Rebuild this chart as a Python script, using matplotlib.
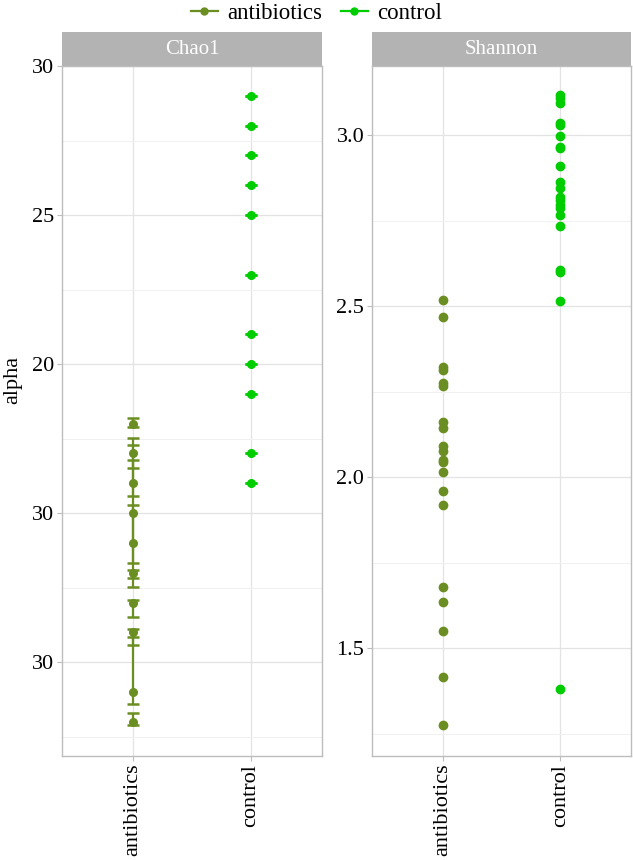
import matplotlib
matplotlib.use("Agg")
import matplotlib.pyplot as plt
from matplotlib.patches import Rectangle
from matplotlib.lines import Line2D

plt.rcParams['font.family'] = ['Liberation Serif', 'DejaVu Serif']

groups = ["antibiotics", "control"]
col_anti = "#6B8E23"
col_ctrl = "#00CD00"

# Chao1 values
chao_anti = [18, 17, 16, 15, 14, 13, 12, 11, 9, 8]
chao_anti_lo = [17.89, 16.52, 15.58, 13.31, 12.81, 12.53, 11.52, 10.57, 8.59, 7.89]
chao_anti_hi = [18.18, 17.51, 17.28, 16.78, 15.27, 13.10, 12.10, 11.10, 10.83, 8.28]
chao_ctrl = [29, 28, 27, 26, 25, 23, 21, 20, 19, 17, 16]
chao_ticks = [30, 25, 20, 15, 10]
chao_ticklabels = ["30", "25", "20", "30", "30"]

# Shannon values
shan_anti = [2.518, 2.467, 2.322, 2.313, 2.276, 2.267, 2.162, 2.145, 2.092, 2.077,
             2.050, 2.044, 2.016, 1.959, 1.918, 1.680, 1.636, 1.551, 1.417, 1.275]
shan_ctrl = [3.117, 3.107, 3.094, 3.036, 3.029, 2.997, 2.966, 2.963, 2.910, 2.863,
             2.844, 2.818, 2.810, 2.795, 2.786, 2.766, 2.734, 2.605, 2.600, 2.515, 1.382]
shan_ticks = [3.0, 2.5, 2.0, 1.5]
shan_ticklabels = ["3.0", "2.5", "2.0", "1.5"]

W, H = 633, 860
fig = plt.figure(figsize=(W / 100, H / 100), dpi=100)

def px_axes(x0, x1, y0, y1):
    return fig.add_axes([x0 / W, 1 - y1 / H, (x1 - x0) / W, (y1 - y0) / H])

ax1 = px_axes(62, 322, 66, 756)
ax2 = px_axes(372, 631, 66, 756)

def style(ax, title, ticks, labels, minor, ylim):
    ax.set_xlim(0.4, 2.6)
    ax.set_ylim(*ylim)
    ax.set_xticks([1, 2])
    ax.set_xticklabels(groups, rotation=90, fontsize=16)
    ax.set_yticks(ticks)
    ax.set_yticklabels(labels, fontsize=16)
    ax.set_yticks(minor, minor=True)
    ax.grid(True, which="major", color="#E3E3E3", lw=0.9)
    ax.grid(True, which="minor", axis="y", color="#F0F0F0", lw=0.7)
    ax.set_axisbelow(True)
    for s in ax.spines.values():
        s.set_color("#BDBDBD")
        s.set_linewidth(1.0)
    ax.tick_params(which="major", length=3.5, color="#BDBDBD", pad=2)
    ax.tick_params(which="minor", length=0)
    hs = 34 / 690
    ax.add_patch(Rectangle((0, 1), 1, hs, transform=ax.transAxes, clip_on=False,
                           facecolor="#B3B3B3", edgecolor="none"))
    ax.text(0.5, 1 + hs / 2, title, transform=ax.transAxes, ha="center", va="center",
            color="white", fontsize=15)

style(ax1, "Chao1", chao_ticks, chao_ticklabels, [27.5, 22.5, 17.5, 12.5, 7.5], (6.85, 30))
style(ax2, "Shannon", shan_ticks, shan_ticklabels, [2.75, 2.25, 1.75, 1.25], (1.185, 3.202))

# Chao1 with error bars
yerr = [[v - lo for v, lo in zip(chao_anti, chao_anti_lo)],
        [hi - v for v, hi in zip(chao_anti, chao_anti_hi)]]
ax1.errorbar([1] * len(chao_anti), chao_anti, yerr=yerr, fmt="o", color=col_anti,
             ms=5.5, capsize=4.6, elinewidth=1.6, capthick=1.8)
ax1.errorbar([2] * len(chao_ctrl), chao_ctrl, yerr=0, fmt="o", color=col_ctrl,
             ms=5.5, capsize=4.6, elinewidth=1.6, capthick=1.8)

ax2.plot([1] * len(shan_anti), shan_anti, "o", color=col_anti, ms=6)
ax2.plot([2] * len(shan_ctrl), shan_ctrl, "o", color=col_ctrl, ms=6)

fig.text(13 / W, 1 - 380 / H, "alpha", rotation=90, ha="center", va="center", fontsize=16)

handles = [Line2D([], [], color=col_anti, marker="o", ms=5, lw=1.6),
           Line2D([], [], color=col_ctrl, marker="o", ms=5, lw=1.6)]
fig.legend(handles, groups, loc="center", bbox_to_anchor=(0.5, 1 - 13 / H), ncol=2,
           frameon=False, fontsize=16.5, handlelength=1.2, handletextpad=0.4,
           columnspacing=0.8)

fig.savefig("out.png", dpi=100)
